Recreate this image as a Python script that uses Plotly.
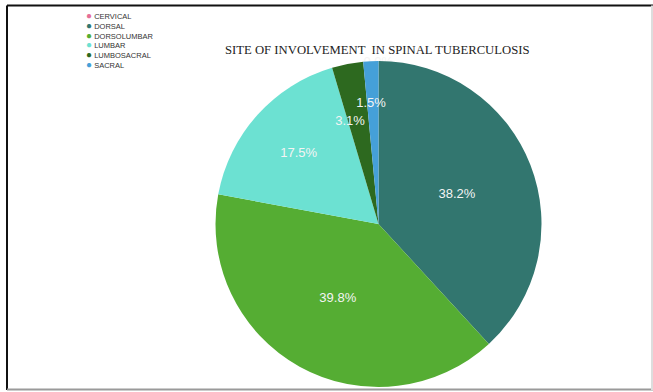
import plotly.graph_objects as go

labels = ["CERVICAL", "DORSAL", "DORSOLUMBAR", "LUMBAR", "LUMBOSACRAL", "SACRAL"]
values = [0, 38.2, 39.8, 17.5, 3.1, 1.5]
colors = ["#e56f98", "#32766f", "#55ad33", "#6ce1d2", "#2d691f", "#45a0d8"]
title_text = "SITE OF INVOLVEMENT  IN SPINAL TUBERCULOSIS"

W, H = 653, 392
cx, cy, r = 378.5, 224, 163

# blank lines above the small-slice labels move them inward, as in the reference
pad = [0, 0, 0, 0, 5, 4]
templates = ["&nbsp;<br>" * p + "%{percent:.1%}" for p in pad]

fig = go.Figure()
fig.add_trace(go.Pie(
    labels=labels, values=values, sort=False, direction="clockwise", rotation=0,
    marker=dict(colors=colors, line=dict(width=0)),
    texttemplate=templates,
    textposition="inside", insidetextorientation="horizontal",
    textfont=dict(family="Liberation Sans, Arial, sans-serif", size=13, color="#f4f4f4"),
    showlegend=False, hoverinfo="label+percent",
    domain=dict(x=[(cx - r) / W, (cx + r) / W], y=[(H - cy - r) / H, (H - cy + r) / H]),
))

legend_text = "<br>".join(
    f"<span style='color:{c};font-size:10px'>●</span> {l}" for l, c in zip(labels, colors)
)
fig.add_annotation(
    text=legend_text, xref="paper", yref="paper", x=84 / W, y=1 - 8 / H,
    xanchor="left", yanchor="top", align="left", showarrow=False,
    font=dict(family="Liberation Sans, Arial, sans-serif", size=7.5, color="#333333"),
)
fig.add_annotation(
    text=title_text, xref="paper", yref="paper", x=377 / W, y=1 - 50 / H,
    xanchor="center", yanchor="middle", showarrow=False,
    font=dict(family="Liberation Serif, Times New Roman, serif", size=12.7, color="#222222"),
)


def px_line(x0, y0, x1, y1, color, width):
    fig.add_shape(type="line", xref="paper", yref="paper",
                  x0=x0 / W, x1=x1 / W, y0=1 - y0 / H, y1=1 - y1 / H,
                  line=dict(color=color, width=width), layer="below")


px_line(7, 5.5, 653, 5.5, "#111111", 2)
px_line(7, 5.5, 7, 390, "#111111", 2)
px_line(7, 389.5, 653, 389.5, "#9a9a9a", 2)
px_line(652, 5.5, 652, 390, "#dddddd", 2)

fig.update_layout(
    width=W, height=H, margin=dict(l=0, r=0, t=0, b=0),
    paper_bgcolor="white", plot_bgcolor="white",
    uniformtext=dict(minsize=13, mode="show"),
)
fig.write_html("out.html", config={"displayModeBar": False},
               post_script="document.body.style.margin='0';")
